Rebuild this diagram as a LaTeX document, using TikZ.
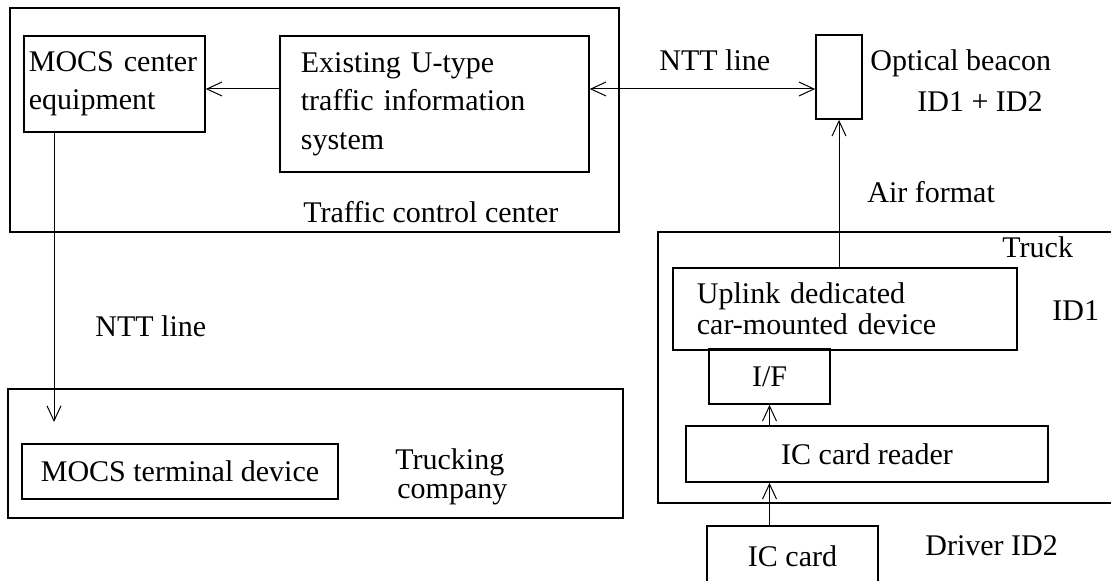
\documentclass[tikz,border=0pt]{standalone}
\usepackage{fontspec}
\setmainfont{Liberation Serif}
\usetikzlibrary{arrows.meta}
\definecolor{ink}{HTML}{000000}
\definecolor{paper}{HTML}{FFFFFF}
\tikzset{
  frame/.style={draw=ink, line width=0.9pt},
  box/.style={draw=ink, line width=0.9pt, inner sep=0pt, align=center, text=ink},
  boxl/.style={box, align=left, anchor=north west, inner ysep=0pt},
  link/.style={draw=ink, line width=0.5pt},
  lab/.style={text=ink, inner sep=0pt, anchor=base west},
}

\begin{document}
\begin{tikzpicture}[x=0.5pt,y=-0.5pt,font=\fontsize{15}{19.25}\selectfont,
  >={Straight Barb[length=7.5pt,width=7pt]}]
  \useasboundingbox (0,0) rectangle (1111,581);
  \fill[paper] (0,0) rectangle (1111,581);

  % enclosing areas
  \draw[frame] (10,8) rectangle (619,232);
  \draw[frame] (8,389) rectangle (623,518);
  \draw[frame] (658,232) rectangle (1130,503);

  \node[boxl, text width=85.5pt, inner xsep=2.5pt, minimum height=48pt] (mocsc) at (23,35)
    {MOCS center\\equipment};
  \node[boxl, text width=133.5pt, inner xsep=10.5pt, minimum height=68pt] (utype) at (279,35)
    {Existing U-type\\traffic information\\system};
  \node[box, minimum width=23pt, minimum height=42pt] (beacon) at (839,77) {};
  \node[boxl, text width=148pt, inner xsep=12pt, minimum height=41pt] (uplink) at (672,267)
    {Uplink dedicated\\[-3.5pt]car-mounted device};
  \node[box, minimum width=60.5pt, minimum height=27.5pt] (if) at (769.5,376.5) {I/F};
  \node[box, minimum width=181pt, minimum height=28pt] (reader) at (867,454) {IC card reader};
  \node[box, minimum width=85.5pt, minimum height=30pt] (iccard) at (792.5,556) {IC card};
  \node[box, minimum width=158pt, minimum height=27.5pt] (mocst) at (180,471.5) {MOCS terminal device};

  \node[lab] (tcc) at (303,223) {Traffic control center};
  \node[lab] (ntt) at (659,71) {NTT line};
  \node[lab] (obeacon) at (870,71) {Optical beacon};
  \node[lab] (idsum) at (917,112) {ID1 + ID2};
  \node[lab] (air) at (867,203) {Air format};
  \node[lab] (truck) at (1002,258) {Truck};
  \node[lab] (idone) at (1052,321) {ID1};
  \node[lab] (driver) at (925,555) {Driver ID2};
  \node[lab] (nttb) at (95,337) {NTT line};
  \node[lab] (trkco) at (395,470) {Trucking};
  \node[lab] (trkcob) at (397,498) {company};

  \coordinate (lnk) at (0,89);
  \coordinate (drop) at (54,422);

  \draw[link,->] (utype.west |- lnk) -- (mocsc.east |- lnk);
  \draw[link,<->] (utype.east |- lnk) -- (beacon.west |- lnk);
  \draw[link,->] (uplink.north -| beacon.south) -- (beacon.south);
  \draw[link,->] (mocsc.south -| drop) -- (drop);
  \draw[link,->] (reader.north -| if.south) -- (if.south);
  \draw[link,->] (iccard.north -| if.south) -- (reader.south -| if.south);
\end{tikzpicture}
\end{document}
